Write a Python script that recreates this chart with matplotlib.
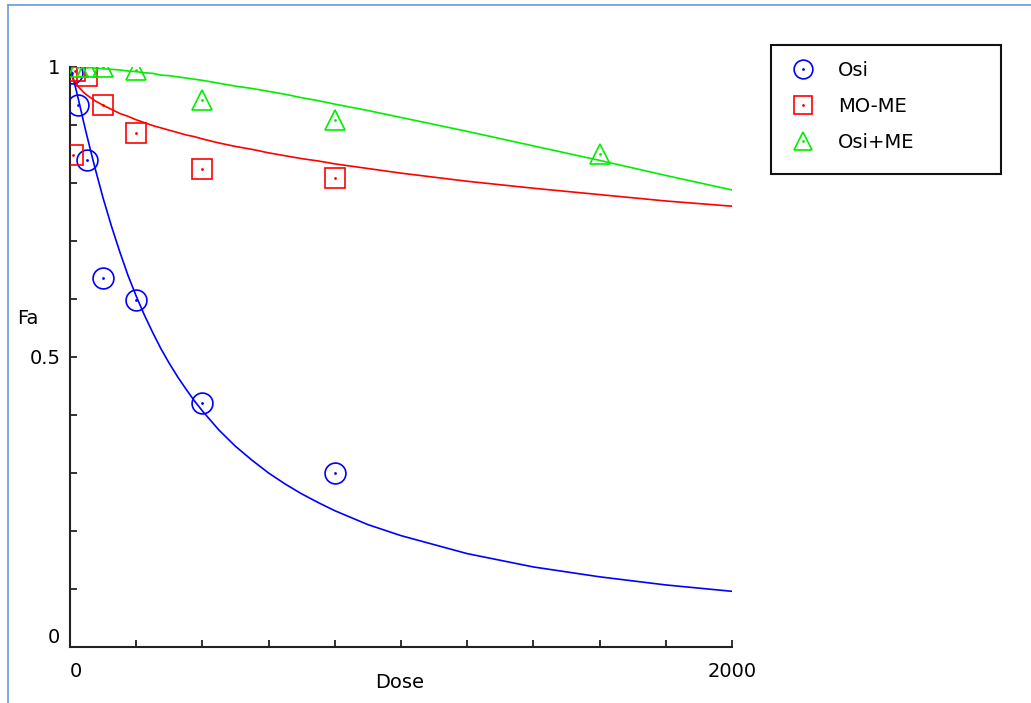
import matplotlib
matplotlib.use('Agg')
import matplotlib.pyplot as plt
from matplotlib.lines import Line2D
from matplotlib.patches import Rectangle
from matplotlib.legend_handler import HandlerTuple

# measured points
osi_dose = [5, 25, 50, 100, 200, 400, 800]
osi_fa = [0.989, 0.934, 0.840, 0.637, 0.598, 0.421, 0.300]

mome_dose = [10, 15, 50, 100, 200, 400, 800]
mome_fa = [0.849, 0.993, 0.984, 0.934, 0.887, 0.825, 0.808]

comb_dose = [25, 50, 100, 200, 400, 800, 1600]
comb_fa = [1.0, 1.0, 1.0, 0.995, 0.943, 0.909, 0.850]

# fitted curves
curve_dose = [0, 5, 10, 20, 25, 30, 40, 50, 60, 75, 100, 125, 150, 175, 200,
              225, 250, 275, 300, 325, 350, 375, 400, 450, 500, 550, 600, 650,
              700, 750, 800, 900, 1000, 1200, 1400, 1600, 1800, 2000]
osi_curve = [1.0, 0.991, 0.980, 0.957, 0.945, 0.933, 0.908, 0.884, 0.861,
             0.827, 0.774, 0.726, 0.682, 0.641, 0.605, 0.572, 0.542, 0.514,
             0.489, 0.466, 0.445, 0.425, 0.407, 0.374, 0.346, 0.322, 0.300,
             0.281, 0.264, 0.249, 0.235, 0.211, 0.192, 0.161, 0.138, 0.121,
             0.107, 0.096]
mome_curve = [1.0, 0.985, 0.978, 0.969, 0.966, 0.963, 0.957, 0.952, 0.948,
              0.942, 0.934, 0.927, 0.920, 0.915, 0.909, 0.904, 0.899, 0.895,
              0.891, 0.887, 0.883, 0.880, 0.876, 0.869, 0.863, 0.858, 0.852,
              0.847, 0.842, 0.838, 0.833, 0.825, 0.817, 0.803, 0.791, 0.780,
              0.769, 0.760]
comb_curve = [1.0, 1.0, 1.0, 1.0, 1.0, 1.0, 0.999, 0.999, 0.999, 0.998, 0.997,
              0.996, 0.995, 0.993, 0.992, 0.990, 0.989, 0.986, 0.985, 0.983,
              0.981, 0.979, 0.977, 0.972, 0.967, 0.963, 0.958, 0.953, 0.947,
              0.942, 0.936, 0.925, 0.913, 0.889, 0.864, 0.839, 0.813, 0.788]

labels = ['Osi', 'MO-ME', 'Osi+ME']
colors = ['#0000ff', '#ff0000', '#00ee00']
markers = ['o', 's', '^']
msizes = [15, 14, 15]

plt.rcParams['font.family'] = ['DejaVu Sans']
plt.rcParams['font.size'] = 14

W, H = 1031, 703
fig = plt.figure(figsize=(W / 100, H / 100), dpi=100)
ax = fig.add_axes([70 / W, 56 / H, 662 / W, 580 / H])

series = [(osi_dose, osi_fa, osi_curve),
          (mome_dose, mome_fa, mome_curve),
          (comb_dose, comb_fa, comb_curve)]

handles = []
for (d, fa, cv), lab, c, m, ms in zip(series, labels, colors, markers, msizes):
    ax.plot(curve_dose, cv, color=c, lw=1.2, zorder=2)
    ax.plot(d, fa, linestyle='none', marker=m, markersize=ms,
            markerfacecolor='none', markeredgecolor=c, markeredgewidth=1.2, zorder=3)
    ax.plot(d, fa, linestyle='none', marker='.', markersize=2, color=c, zorder=3)
    h1 = Line2D([], [], linestyle='none', marker=m, markersize=ms * 0.9,
                markerfacecolor='none', markeredgecolor=c, markeredgewidth=1.2)
    h2 = Line2D([], [], linestyle='none', marker='.', markersize=2, color=c)
    handles.append((h1, h2))

ax.set_xlim(0, 2000)
ax.set_ylim(0, 1)
for s in ['top', 'right']:
    ax.spines[s].set_visible(False)
for s in ['left', 'bottom']:
    ax.spines[s].set_linewidth(1.5)
    ax.spines[s].set_color('#222222')

xt = list(range(0, 2001, 200))
ax.set_xticks(xt)
ax.set_xticklabels(['0' if v == 0 else ('2000' if v == 2000 else '') for v in xt])
yt = [i / 10 for i in range(11)]
ax.set_yticks(yt)
ax.set_yticklabels(['0' if i == 0 else ('0.5' if i == 5 else ('1' if i == 10 else ''))
                    for i in range(11)])
ax.tick_params(axis='x', direction='in', length=5, width=1.3, color='#222222', pad=11)
ax.tick_params(axis='y', direction='in', length=5, width=1.3, color='#222222', pad=7)
ax.get_xticklabels()[0].set_horizontalalignment('left')
ax.get_yticklabels()[0].set_verticalalignment('bottom')

fig.text(28 / W, 1 - 319 / H, 'Fa', ha='center', va='center')
fig.text(400 / W, 1 - 682 / H, 'Dose', ha='center', va='center')

leg = ax.legend(handles, labels, handler_map={tuple: HandlerTuple(ndivide=1, pad=0)},
                loc='upper left', bbox_to_anchor=(791 / W, 1 - 61 / H),
                bbox_transform=fig.transFigure, borderaxespad=0, borderpad=0,
                frameon=False, labelspacing=0.88, handlelength=1.2,
                handletextpad=1.2, fontsize=14)
fig.add_artist(Rectangle((771 / W, 1 - 174 / H), 230 / W, 129 / H,
                         transform=fig.transFigure, fill=False,
                         edgecolor='#111111', lw=1.5))

# window border
fig.add_artist(Line2D([8 / W, 8 / W], [0, 1 - 5 / H], transform=fig.transFigure,
                      color='#6a9ad8', lw=1.2))
fig.add_artist(Line2D([8 / W, 1], [1 - 5 / H, 1 - 5 / H], transform=fig.transFigure,
                      color='#6a9ad8', lw=1.2))

fig.savefig('out.png', dpi=100)
